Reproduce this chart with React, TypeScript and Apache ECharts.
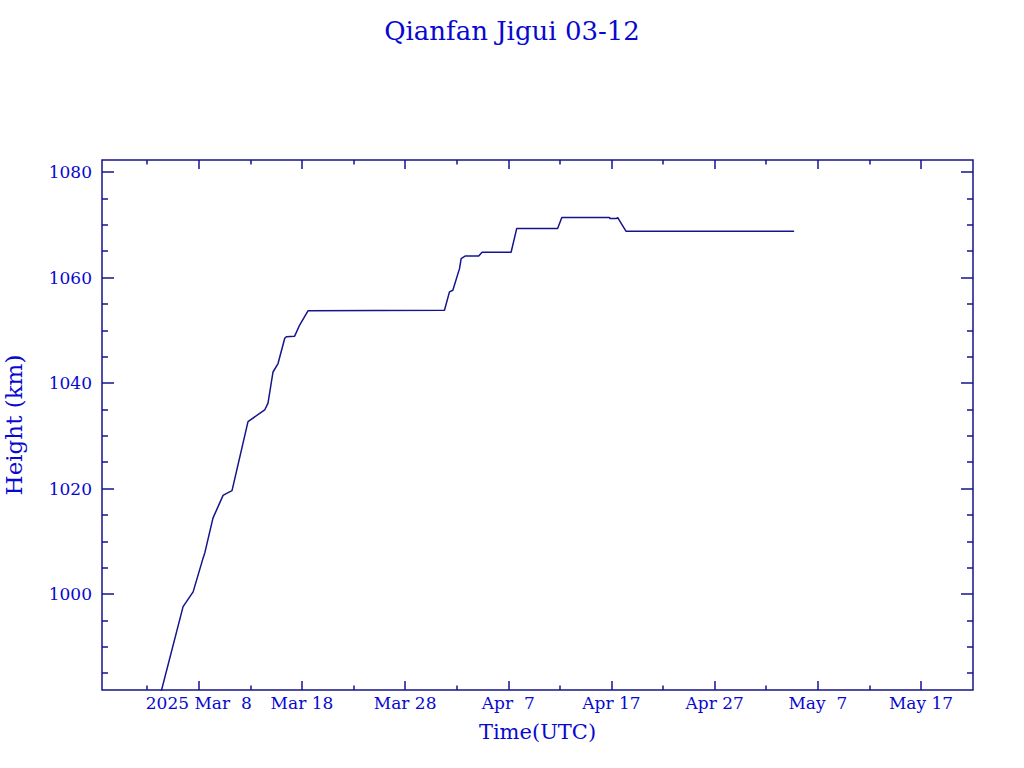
import React, { useEffect, useRef } from "react";
import * as echarts from "echarts";

const titleText = "Qianfan Jigui 03-12";
const xAxisName = "Time(UTC)";
const yAxisName = "Height (km)";

const times = [
  "2025-03-04T05:20:00Z", "2025-03-06T11:30:00Z", "2025-03-07T10:50:00Z", "2025-03-08T10:00:00Z",
  "2025-03-08T14:00:00Z", "2025-03-09T09:00:00Z", "2025-03-10T08:30:00Z", "2025-03-10T14:40:00Z",
  "2025-03-11T05:20:00Z", "2025-03-12T18:30:00Z", "2025-03-14T09:20:00Z", "2025-03-14T17:00:00Z",
  "2025-03-15T04:40:00Z", "2025-03-15T16:20:00Z", "2025-03-16T08:00:00Z", "2025-03-16T11:45:00Z",
  "2025-03-17T07:00:00Z", "2025-03-17T18:40:00Z", "2025-03-18T14:00:00Z", "2025-03-31T19:30:00Z",
  "2025-04-01T07:10:00Z", "2025-04-01T15:00:00Z", "2025-04-02T06:30:00Z", "2025-04-02T10:20:00Z",
  "2025-04-02T20:20:00Z", "2025-04-04T03:10:00Z", "2025-04-04T11:00:00Z", "2025-04-07T06:30:00Z",
  "2025-04-07T19:30:00Z", "2025-04-11T18:45:00Z", "2025-04-12T04:30:00Z", "2025-04-16T19:00:00Z",
  "2025-04-16T20:40:00Z", "2025-04-17T11:50:00Z", "2025-04-17T14:10:00Z", "2025-04-18T09:40:00Z",
  "2025-05-04T16:50:00Z",
];
const heights = [
  980.5, 997.6, 1000.4, 1006.8,
  1007.8, 1014.4, 1018.7, 1019.0,
  1019.6, 1032.7, 1034.9, 1036.2,
  1042.1, 1043.7, 1048.5, 1048.8,
  1048.9, 1051.0, 1053.7, 1053.8,
  1057.3, 1057.6, 1061.7, 1063.6,
  1064.1, 1064.1, 1064.8, 1064.8,
  1069.3, 1069.3, 1071.4, 1071.4,
  1071.2, 1071.2, 1071.4, 1068.8,
  1068.8,
];

const xMajorDates = [
  "2025-03-08T00:00:00Z", "2025-03-18T00:00:00Z", "2025-03-28T00:00:00Z", "2025-04-07T00:00:00Z",
  "2025-04-17T00:00:00Z", "2025-04-27T00:00:00Z", "2025-05-07T00:00:00Z", "2025-05-17T00:00:00Z",
];
const xTickLabels = ["2025 Mar  8", "Mar 18", "Mar 28", "Apr  7", "Apr 17", "Apr 27", "May  7", "May 17"];
const xMinorDates = [
  "2025-03-03T00:00:00Z", "2025-03-13T00:00:00Z", "2025-03-23T00:00:00Z", "2025-04-02T00:00:00Z",
  "2025-04-12T00:00:00Z", "2025-04-22T00:00:00Z", "2025-05-02T00:00:00Z", "2025-05-12T00:00:00Z",
];
const xMinStr = "2025-02-26T14:53:00Z";
const xMaxStr = "2025-05-22T00:58:00Z";

const yMajor = [1000, 1020, 1040, 1060, 1080];
const yMinor = [985, 990, 995, 1005, 1010, 1015, 1025, 1030, 1035, 1045, 1050, 1055, 1065, 1070, 1075];
const yMin = 981.8;
const yMax = 1082.3;

const TEXT = "#0808d0";
const LINE = "#14148c";
const FONT = "DejaVu Serif";

export default function App() {
  const ref = useRef<HTMLDivElement>(null);
  useEffect(() => {
    if (!ref.current) return;
    const chart = echarts.init(ref.current, null, { renderer: "svg" });
    const xMajor = xMajorDates.map((d) => Date.parse(d));
    const xMinor = xMinorDates.map((d) => Date.parse(d));
    const labelMap: Record<number, string> = {};
    xMajor.forEach((v, i) => (labelMap[v] = xTickLabels[i]));
    const xMin = Date.parse(xMinStr);
    const xMax = Date.parse(xMaxStr);

    const xBase = (position: string, vals: number[], len: number, withLabel: boolean, extra: any = {}) => ({
      type: "value",
      position,
      offset: 0,
      min: xMin,
      max: xMax,
      axisLine: { show: false },
      splitLine: { show: false },
      axisTick: { show: true, inside: true, length: len, customValues: vals, lineStyle: { color: LINE, width: 1.5 } },
      axisLabel: withLabel
        ? {
            show: true,
            customValues: xMajor,
            margin: 4,
            color: TEXT,
            fontFamily: FONT,
            fontSize: 17,
            formatter: (v: number) => labelMap[v] ?? "",
          }
        : { show: false },
      ...extra,
    });
    const yBase = (position: string, vals: number[], len: number, withLabel: boolean, extra: any = {}) => ({
      type: "value",
      position,
      offset: 0,
      min: yMin,
      max: yMax,
      axisLine: { show: false },
      splitLine: { show: false },
      axisTick: { show: true, inside: true, length: len, customValues: vals, lineStyle: { color: LINE, width: 1.5 } },
      axisLabel: withLabel
        ? {
            show: true,
            customValues: yMajor,
            margin: 10,
            color: TEXT,
            fontFamily: FONT,
            fontSize: 17,
            formatter: (v: number) => String(Math.round(v)),
          }
        : { show: false },
      ...extra,
    });

    chart.setOption({
      animation: false,
      backgroundColor: "#ffffff",
      title: {
        text: titleText,
        left: "center",
        top: 13,
        textStyle: { color: TEXT, fontFamily: FONT, fontSize: 26, fontWeight: "normal" },
      },
      grid: {
        left: 102,
        top: 160,
        width: 871,
        height: 530,
        show: true,
        borderColor: LINE,
        borderWidth: 1.5,
        backgroundColor: "transparent",
        containLabel: false,
        outerBoundsMode: "none",
      },
      xAxis: [
        xBase("bottom", xMajor, 9, true, {
          name: xAxisName,
          nameLocation: "middle",
          nameGap: 31,
          nameTextStyle: { color: TEXT, fontFamily: FONT, fontSize: 21 },
        }),
        xBase("bottom", xMinor, 4.5, false),
        xBase("top", xMajor, 9, false),
        xBase("top", xMinor, 4.5, false),
      ],
      yAxis: [
        yBase("left", yMajor, 12, true, {
          name: yAxisName,
          nameLocation: "middle",
          nameGap: 77,
          nameRotate: 90,
          nameTextStyle: { color: TEXT, fontFamily: FONT, fontSize: 23 },
        }),
        yBase("left", yMinor, 6, false),
        yBase("right", yMajor, 12, false),
        yBase("right", yMinor, 6, false),
      ],
      series: [
        {
          type: "line",
          xAxisIndex: 0,
          yAxisIndex: 0,
          showSymbol: false,
          clip: true,
          lineStyle: { color: LINE, width: 1.5 },
          data: times.map((t, i) => [Date.parse(t), heights[i]]),
        },
      ],
    });
    return () => chart.dispose();
  }, []);
  return <div ref={ref} style={{ position: "absolute", left: 0, top: 0, width: 1024, height: 768 }} />;
}
